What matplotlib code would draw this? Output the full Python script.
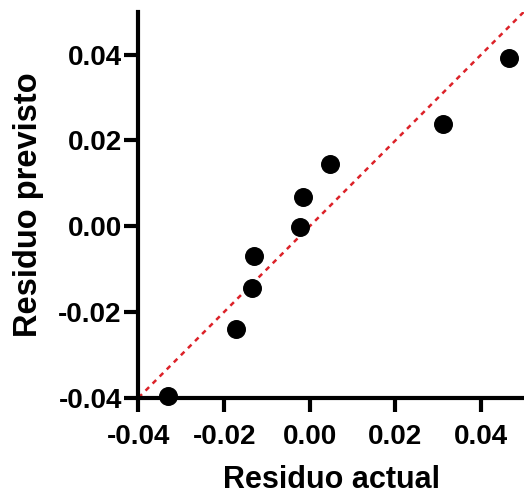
import matplotlib
matplotlib.use('Agg')
import matplotlib.pyplot as plt

# residuos
actual   = [-0.0331, -0.0173, -0.0134, -0.0130, -0.0023, -0.0017, 0.0046, 0.0312, 0.0464]
previsto = [-0.0395, -0.0240, -0.0145, -0.0070, -0.0001, 0.0069, 0.0145, 0.0239, 0.0393]
ticks = [-0.04, -0.02, 0.00, 0.02, 0.04]
lims = [-0.04, 0.05]

plt.rcParams['font.family'] = ['Liberation Sans', 'DejaVu Sans']
plt.rcParams['font.weight'] = 'bold'

fig = plt.figure(figsize=(5.24, 4.97), dpi=100)
ax = fig.add_axes([0.2643, 0.1998, 0.7357, 0.7767])

ax.plot(lims, lims, color='#dc2229', ls=(0, (2, 2)), lw=1.8, zorder=1)
ax.scatter(actual, previsto, s=160, color='black', zorder=3, clip_on=False)

ax.set_xlim(lims)
ax.set_ylim(lims)
ax.set_xticks(ticks)
ax.set_yticks(ticks)
ax.set_xticklabels(['{:.2f}'.format(t) for t in ticks])
ax.set_yticklabels(['{:.2f}'.format(t) for t in ticks])

for s in ['top', 'right']:
    ax.spines[s].set_visible(False)
for s in ['left', 'bottom']:
    ax.spines[s].set_linewidth(3)
ax.tick_params(width=3, length=10, labelsize=20)
ax.tick_params(axis='x', pad=9)
ax.tick_params(axis='y', pad=2)
for lab in ax.get_xticklabels() + ax.get_yticklabels():
    lab.set_fontweight('bold')

ax.set_xlabel('Residuo actual', fontsize=22, fontweight='bold', labelpad=11)
ax.set_ylabel('Residuo previsto', fontsize=23.5, fontweight='bold', labelpad=10)

fig.savefig('out.png', dpi=100)
